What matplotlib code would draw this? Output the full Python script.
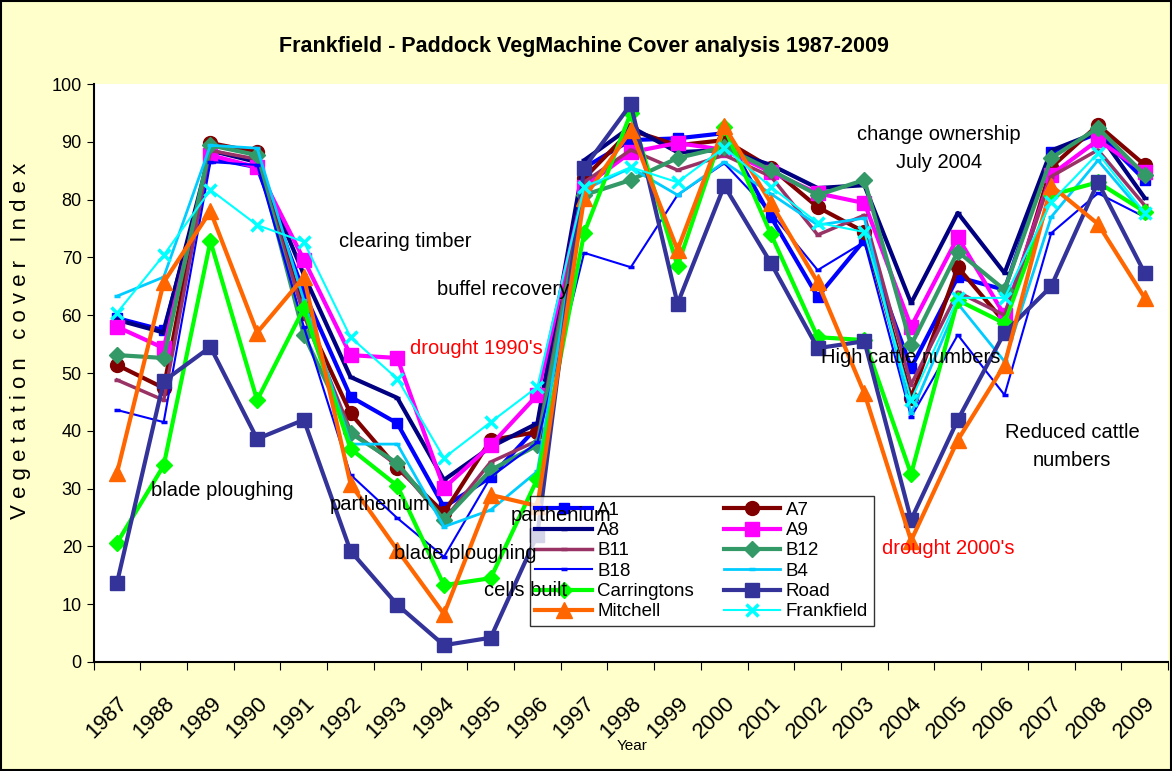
import numpy as np
import matplotlib
matplotlib.use("Agg")
import matplotlib.pyplot as plt

plt.rcParams['font.family'] = ['Liberation Sans', 'DejaVu Sans']

years = [str(y) for y in range(1987, 2010)]

a1 = [59.5, 57.4, 87.2, 85.6, 64.0, 45.9, 41.3, 26.8, 32.0, 40.7, 85.5, 90.3, 90.6, 91.5,
      77.0, 63.2, 73.0, 50.9, 66.6, 64.4, 88.2, 91.5, 83.4]
a7 = [51.4, 47.4, 89.8, 88.2, 60.4, 43.0, 33.6, 25.8, 38.4, 39.8, 83.7, 92.0, 89.4, 90.3,
      85.5, 78.7, 74.4, 45.7, 68.3, 58.8, 85.6, 92.9, 86.0]
a8 = [59.2, 57.0, 88.5, 86.5, 67.0, 49.3, 45.7, 31.5, 37.2, 41.3, 86.8, 92.6, 88.2, 88.6,
      86.0, 82.0, 82.5, 62.1, 77.7, 67.3, 88.5, 91.7, 80.3]
a9 = [58.0, 54.3, 87.7, 85.6, 69.6, 53.1, 52.6, 30.1, 37.5, 46.2, 82.2, 88.2, 89.8, 88.6,
      84.8, 81.1, 79.4, 58.0, 73.5, 60.0, 84.3, 90.3, 84.8]
b11 = [48.8, 45.3, 88.5, 87.0, 60.0, 40.0, 34.0, 24.6, 34.6, 38.3, 83.0, 88.6, 85.1, 87.7,
       84.0, 73.9, 77.3, 48.0, 64.0, 60.0, 84.0, 88.6, 79.0]
b12 = [53.1, 52.6, 89.4, 87.7, 56.6, 39.6, 34.4, 24.6, 33.2, 37.5, 80.8, 83.4, 87.2, 89.1,
       85.1, 80.8, 83.4, 54.8, 71.0, 64.4, 87.2, 92.4, 84.3]
b18 = [43.6, 41.5, 86.5, 86.0, 58.0, 32.4, 24.9, 18.2, 32.0, 38.0, 70.8, 68.3, 80.8, 86.3,
       77.7, 67.8, 72.7, 42.4, 56.6, 46.2, 74.2, 81.1, 77.0]
b4 = [63.3, 66.6, 89.4, 88.9, 62.6, 37.7, 37.7, 23.4, 26.3, 33.0, 81.7, 85.5, 80.8, 86.5,
      81.0, 75.6, 76.8, 43.0, 62.0, 52.0, 77.0, 86.8, 77.3]
carringtons = [20.6, 34.0, 72.8, 45.3, 61.2, 36.9, 30.5, 13.3, 14.5, 31.7, 74.2, 95.0, 68.5, 92.5,
               74.0, 56.2, 55.7, 32.5, 62.6, 58.6, 80.8, 83.0, 77.9]
road = [13.7, 48.6, 54.5, 38.6, 41.9, 19.2, 9.9, 2.9, 4.2, 22.0, 85.5, 96.5, 62.0, 82.4,
        69.0, 54.3, 55.5, 24.6, 41.9, 57.0, 65.0, 83.0, 67.3]
mitchell = [32.7, 65.7, 78.0, 57.0, 66.6, 30.8, 19.4, 8.3, 28.9, 27.0, 80.3, 92.0, 71.3, 92.7,
            79.4, 65.7, 46.5, 21.0, 38.4, 51.4, 82.4, 75.8, 63.0]
frankfield = [60.4, 70.4, 81.7, 75.6, 72.7, 56.2, 49.0, 35.3, 41.5, 47.6, 82.2, 85.6, 83.0, 89.0,
              82.2, 76.0, 74.4, 45.3, 63.0, 63.0, 79.6, 88.0, 77.7]

# name, values, colour, marker, marker size, line width
series = [
    ("A1", a1, "#0000FF", "s", 6.5, 3.0),
    ("A7", a7, "#800000", "o", 10, 3.0),
    ("A8", a8, "#000080", "_", 5, 3.0),
    ("A9", a9, "#FF00FF", "s", 10, 3.0),
    ("B11", b11, "#993366", "_", 5, 2.5),
    ("B12", b12, "#339966", "D", 8, 3.0),
    ("B18", b18, "#0000FF", "_", 5, 1.5),
    ("B4", b4, "#00CCFF", "_", 5, 2.0),
    ("Carringtons", carringtons, "#00FF00", "D", 8, 3.0),
    ("Road", road, "#333399", "s", 10, 3.0),
    ("Mitchell", mitchell, "#FF6600", "^", 11, 3.0),
    ("Frankfield", frankfield, "#00FFFF", "x", 9, 1.5),
]

fig = plt.figure(figsize=(11.72, 7.71), dpi=100, facecolor="#FFFFCC")
ax = fig.add_axes([0.0799, 0.1414, 0.9167, 0.7496])
ax.set_facecolor("white")

x = np.arange(len(years))
handles = {}
for name, vals, col, mk, ms, lw in series:
    mew = 2.5 if mk in ("_", "x") else 1
    h, = ax.plot(x, vals, color=col, marker=mk, markersize=ms, linewidth=lw,
                 markeredgewidth=mew, label=name)
    handles[name] = h

ax.set_xlim(-0.5, len(years) - 0.5)
ax.set_ylim(0, 100)
ax.set_yticks(range(0, 101, 10))
ax.tick_params(axis="y", labelsize=13, length=5, direction="out")
ax.set_xticks(np.arange(-0.5, len(years), 1))
ax.set_xticklabels([])
ax.tick_params(axis="x", length=6, direction="out")
ax.set_xticks(x, minor=True)
ax.set_xticklabels(years, minor=True, rotation=45, fontsize=16, ha="right",
                   va="top", rotation_mode="anchor")
ax.tick_params(axis="x", which="minor", length=0, pad=22)
for s in ["top", "right"]:
    ax.spines[s].set_visible(False)
ax.spines["left"].set_linewidth(1.5)
ax.spines["bottom"].set_linewidth(1.5)

ax.set_ylabel("V e g e t a t i o n   c o v e r   I n d e x", fontsize=16)
ax.yaxis.set_label_coords(-0.058, 0.555)
fig.text(0.539, 0.027, "Year", fontsize=11, ha="center")
fig.text(0.498, 0.94, "Frankfield - Paddock VegMachine Cover analysis 1987-2009",
         fontsize=15.5, fontweight="bold", ha="center", va="center")

order = ["A1", "A8", "B11", "B18", "Carringtons", "Mitchell",
         "A7", "A9", "B12", "B4", "Road", "Frankfield"]
leg = ax.legend([handles[n] for n in order], order, ncol=2, loc="upper left",
                bbox_to_anchor=(0.406, 0.287),
                fontsize=13.5, frameon=True, fancybox=False, edgecolor="black",
                borderpad=0.3, labelspacing=0.17, handlelength=3.0,
                handletextpad=0.3, columnspacing=1.6, borderaxespad=0)
leg.get_frame().set_linewidth(1.0)
leg.set_zorder(5)

notes = [
    (6.17, 72.8, "clearing timber", "black"),
    (8.27, 64.5, "buffel recovery", "black"),
    (7.7, 54.3, "drought 1990's", "red"),
    (2.25, 29.6, "blade ploughing", "black"),
    (5.63, 27.3, "parthenium", "black"),
    (9.5, 25.4, "parthenium", "black"),
    (7.45, 18.7, "blade ploughing", "black"),
    (8.74, 12.3, "cells built", "black"),
    (17.6, 88.9, "change ownership\nJuly 2004", "black"),
    (17.0, 52.6, "High cattle numbers", "black"),
    (17.8, 19.7, "drought 2000's", "red"),
    (20.45, 37.2, "Reduced cattle\nnumbers", "black"),
]
for nx, ny, txt, col in notes:
    ax.text(nx, ny, txt, color=col, fontsize=14.5, ha="center", va="center",
            linespacing=1.6, zorder=6)

fig.patches.append(plt.Rectangle((0.001, 0.001), 0.998, 0.998, transform=fig.transFigure,
                                 fill=False, edgecolor="black", linewidth=1.5))

fig.savefig("out.png", dpi=100, facecolor=fig.get_facecolor())
